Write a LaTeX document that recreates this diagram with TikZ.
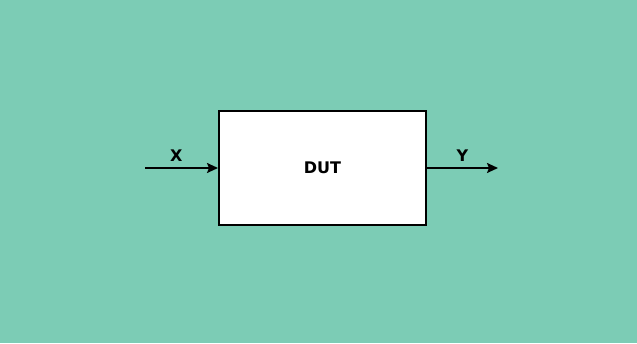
\documentclass[tikz,border=0pt]{standalone}
\usepackage{fontspec}
\setmainfont{DejaVu Sans}
\usepackage{tikz}
\usetikzlibrary{arrows.meta, positioning}
\definecolor{mint}{HTML}{7CCCB5}

\begin{document}
\begin{tikzpicture}[x=1pt, y=-1pt, every node/.style={font=\bfseries\fontsize{16}{19}\selectfont}]
      \fill[mint] (0,0) rectangle (637,343);
      \useasboundingbox (0,0) rectangle (637,343);
      \node[draw=black, line width=2pt, fill=white, inner sep=0pt,
            minimum width=207pt, minimum height=114pt] (dut) at (322.5,168) {DUT};
      \coordinate[left=73pt of dut.west] (xin);
      \coordinate[right=71pt of dut.east] (yout);
      \draw[-{Stealth[length=11pt, width=10pt, inset=2pt]}, line width=1.8pt] (xin) -- (dut.west)
            node[pos=0.43, above=2pt] (xlbl) {X};
      \draw[-{Stealth[length=11pt, width=10pt, inset=2pt]}, line width=1.8pt] (dut.east) -- (yout)
            node[midway, above=2pt] (ylbl) {Y};
    \end{tikzpicture}
\end{document}
